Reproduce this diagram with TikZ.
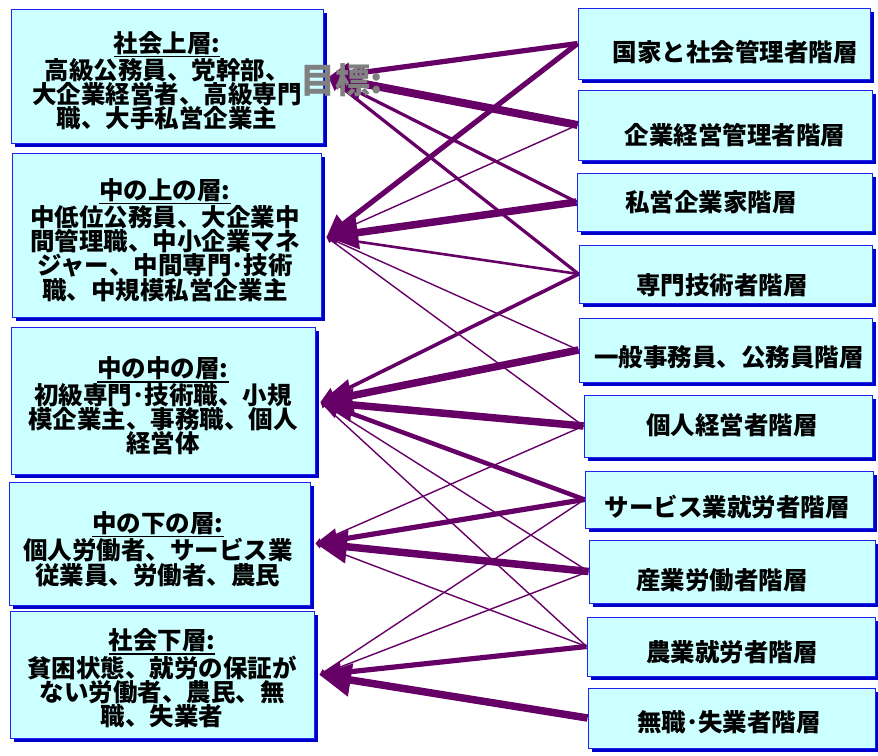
\documentclass[tikz,border=0pt]{standalone}
\usepackage{fontspec}
\newfontfamily\jp{Noto Sans CJK JP}
\usetikzlibrary{arrows.meta,shadows,calc}
\definecolor{boxfill}{HTML}{CCFFFF}
\definecolor{boxline}{HTML}{2222EE}
\definecolor{shadowblue}{HTML}{0000CC}
\definecolor{conncol}{HTML}{660066}
\definecolor{goalgrey}{HTML}{808080}
\newsavebox\myulbox
\newcommand\myul[1]{\sbox\myulbox{#1}\rlap{\rule[-5pt]{\wd\myulbox}{1.5pt}}\usebox\myulbox}
\begin{document}
\begin{tikzpicture}[x=1pt,y=-1pt,
  box/.style={rectangle,draw=boxline,line width=0.9pt,fill=boxfill,inner sep=0pt,
    general shadow={shadow xshift=4pt,shadow yshift=-4pt,fill=shadowblue}},
  ltext/.style={font={\jp\bfseries\fontsize{24.5}{24.2}\selectfont},align=center,inner sep=0pt},
  rtext/.style={font={\jp\bfseries\fontsize{24.5}{24.5}\selectfont},inner sep=0pt},
  conn/.style={draw=conncol,-{Triangle[length=0pt 4.2,width=0pt 4.2]}},
  cthin/.style={conn,line width=1.4pt},
  cmed/.style={conn,line width=3.2pt},
  cmt/.style={conn,line width=5.2pt},
  cthick/.style={conn,line width=7.5pt},
  cvthick/.style={conn,line width=8pt}]
\useasboundingbox (0,0) rectangle (878,755);

% left boxes
\node[box,minimum width=312pt,minimum height=134pt] (l1) at (167,76) {};
\node[box,minimum width=309pt,minimum height=164pt] (l2) at (166.5,235) {};
\node[box,minimum width=304pt,minimum height=147pt] (l3) at (163,400.5) {};
\node[box,minimum width=301pt,minimum height=123pt] (l4) at (159.5,543.5) {};
\node[box,minimum width=304pt,minimum height=127pt] (l5) at (162,674.5) {};

% right boxes
\node[box,minimum width=292pt,minimum height=71pt] (r1) at (724,43.5) {};
\node[box,minimum width=294pt,minimum height=70pt] (r2) at (725,125) {};
\node[box,minimum width=295pt,minimum height=58pt] (r3) at (724.5,202) {};
\node[box,minimum width=293pt,minimum height=58pt] (r4) at (725.5,274) {};
\node[box,minimum width=293pt,minimum height=64pt] (r5) at (725.5,350) {};
\node[box,minimum width=288pt,minimum height=62pt] (r6) at (728,426) {};
\node[box,minimum width=288pt,minimum height=57pt] (r7) at (729,499.5) {};
\node[box,minimum width=286pt,minimum height=63pt] (r8) at (732,571.5) {};
\node[box,minimum width=288pt,minimum height=59pt] (r9) at (731,646.5) {};
\node[box,minimum width=287pt,minimum height=60pt] (r10) at (731.5,718) {};

% arrow tips
\coordinate (l1a) at ($(l1.east)+(5,1)$);
\coordinate (l2a) at ($(l2.east)+(5,2)$);
\coordinate (l3a) at ($(l3.east)+(5,1.5)$);
\coordinate (l4a) at ($(l4.east)+(5,0)$);
\coordinate (l5a) at ($(l5.east)+(5,0.5)$);

% connectors
\draw[cmt] (r1.west) -- (l1a);
\draw[cvthick] (r2.west) -- (l1a);
\draw[cmed] (r3.west) -- (l1a);
\draw[cmed] (r4.west) -- (l1a);

\draw[cmt] (r1.west) -- (l2a);
\draw[cthin] (r2.west) -- (l2a);
\draw[cthick] (r3.west) -- (l2a);
\draw[conn,line width=2.6pt] (r4.west) -- (l2a);
\draw[cthin] (r5.west) -- (l2a);
\draw[cthin] (r6.west) -- (l2a);

\draw[conn,line width=3.6pt] (r4.west) -- (l3a);
\draw[cthick] (r5.west) -- (l3a);
\draw[cthick] (r6.west) -- (l3a);
\draw[conn,line width=4.5pt] (r7.west) -- (l3a);
\draw[cthin] (r8.west) -- (l3a);
\draw[cthin] (r9.west) -- (l3a);

\draw[cthin] (r6.west) -- (l4a);
\draw[cmt] (r7.west) -- (l4a);
\draw[cthick] (r8.west) -- (l4a);
\draw[cthin] (r9.west) -- (l4a);

\draw[cthin] (r7.west) -- (l5a);
\draw[cthin] (r8.west) -- (l5a);
\draw[cmt] (r9.west) -- (l5a);
\draw[cthick] (r10.west) -- (l5a);

% left texts
\node[ltext] (l1t) at (167,80.5) {\myul{社会上層:}\\高級公務員、党幹部、\\大企業経営者、高級専門\\職、大手私営企業主};
\node[ltext] (l2t) at (165,240) {\myul{中の上の層:}\\中低位公務員、大企業中\\間管理職、中小企業マネ\\ジャー、中間専門･技術\\職、中規模私営企業主};
\node[ltext] (l3t) at (163,406) {\myul{中の中の層:}\\初級専門･技術職、小規\\模企業主、事務職、個人\\経営体};
\node[ltext] (l4t) at (158,549) {\myul{中の下の層:}\\個人労働者、サービス業\\従業員、労働者、農民};
\node[ltext] (l5t) at (162,678.5) {\myul{社会下層:}\\貧困状態、就労の保証が\\ない労働者、農民、無\\職、失業者};

% right texts
\node[rtext] (r1t) at (735,52) {国家と社会管理者階層};
\node[rtext] (r2t) at (735,135) {企業経営管理者階層};
\node[rtext] (r3t) at (711,202) {私営企業家階層};
\node[rtext] (r4t) at (722,285) {専門技術者階層};
\node[rtext] (r5t) at (729,357) {一般事務員、公務員階層};
\node[rtext] (r6t) at (732,425) {個人経営者階層};
\node[rtext] (r7t) at (727,507) {サービス業就労者階層};
\node[rtext] (r8t) at (722,580) {産業労働者階層};
\node[rtext] (r9t) at (732,652) {農業就労者階層};
\node[rtext] (r10t) at (729,722) {無職･失業者階層};

% goal label
\node[font={\jp\bfseries\fontsize{35}{35}\selectfont},text=goalgrey,inner sep=0pt] (goal) at (342,80) {目標:};
\end{tikzpicture}
\end{document}
